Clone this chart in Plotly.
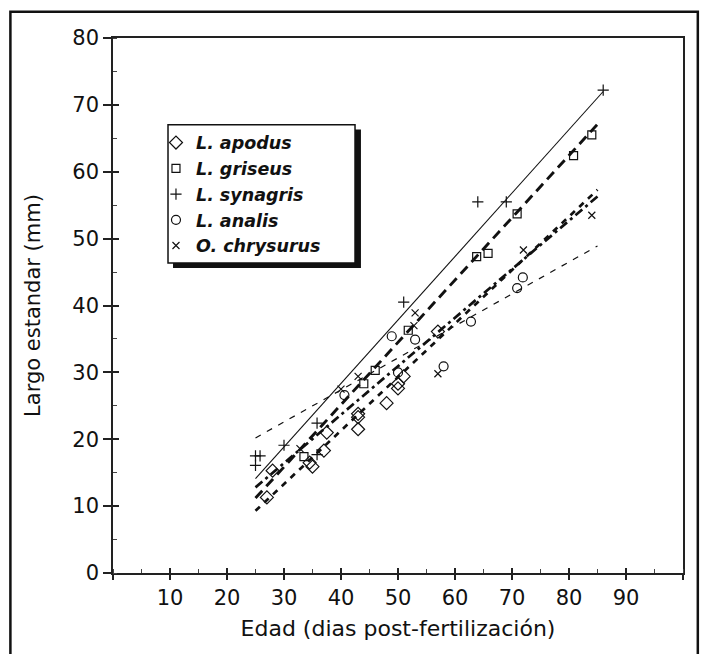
import plotly.graph_objects as go

# ---- data ----
apodus_x = [27, 28, 34.5, 35, 37, 37.5, 43, 43, 43, 48, 50, 50, 51, 57]
apodus_y = [11.3, 15.3, 16.5, 15.9, 18.3, 21.0, 23.8, 23.3, 21.5, 25.4, 27.6, 28.3, 29.4, 36.1]

griseus_x = [33.5, 44, 46, 51.8, 63.8, 65.8, 70.9, 80.8, 84]
griseus_y = [17.4, 28.3, 30.3, 36.3, 47.3, 47.8, 53.7, 62.4, 65.5]

synagris_x = [25, 25.8, 25, 30, 35.8, 35.8, 51, 64, 69, 86]
synagris_y = [17.5, 17.5, 16.1, 19.1, 22.4, 17.7, 40.5, 55.5, 55.5, 72.2]

analis_x = [40.6, 48.9, 50, 53, 58, 62.8, 70.9, 71.9]
analis_y = [26.6, 35.4, 30.0, 34.9, 30.9, 37.6, 42.6, 44.2]

chrysurus_x = [32.8, 40, 43, 52.8, 53, 57, 72, 84]
chrysurus_y = [18.6, 27.5, 29.4, 37.0, 38.9, 29.8, 48.3, 53.5]

# regression lines (end points)
fit_x = [25, 85]
synagris_fit_x = [25, 86]
synagris_fit_y = [14.1, 72.0]
griseus_fit_y = [11.2, 67.1]
apodus_fit_y = [9.3, 57.3]
chrysurus_fit_y = [12.8, 56.3]
analis_fit_y = [20.2, 48.9]

names = ["L. apodus", "L. griseus", "L. synagris", "L. analis", "O. chrysurus"]

x_ticks = list(range(0, 101, 10))
x_ticktext = [""] + [str(v) for v in range(10, 100, 10)] + [""]
y_ticks = list(range(0, 81, 10))

fig = go.Figure()

# regression lines
fig.add_trace(go.Scatter(x=fit_x, y=analis_fit_y, mode="lines", showlegend=False,
                         line=dict(color="#111", width=1.2, dash="6px,7px")))
fig.add_trace(go.Scatter(x=fit_x, y=chrysurus_fit_y, mode="lines", showlegend=False,
                         line=dict(color="#111", width=2.7, dash="9px,4px,3px,4px")))
fig.add_trace(go.Scatter(x=fit_x, y=apodus_fit_y, mode="lines", showlegend=False,
                         line=dict(color="#111", width=2.7, dash="6px,6px")))
fig.add_trace(go.Scatter(x=fit_x, y=griseus_fit_y, mode="lines", showlegend=False,
                         line=dict(color="#111", width=2.9, dash="10px,6px")))
fig.add_trace(go.Scatter(x=synagris_fit_x, y=synagris_fit_y, mode="lines", showlegend=False,
                         line=dict(color="#111", width=1.1)))

series = [
    (apodus_x, apodus_y, "diamond-open", 10),
    (griseus_x, griseus_y, "square-open", 8),
    (synagris_x, synagris_y, "cross-thin", 8),
    (analis_x, analis_y, "circle-open", 9),
    (chrysurus_x, chrysurus_y, "x-thin", 7),
]
for (xs, ys, sym, sz), nm in zip(series, names):
    fig.add_trace(go.Scatter(x=xs, y=ys, mode="markers", name=nm,
                             marker=dict(symbol=sym, size=sz, color="#111",
                                         line=dict(color="#111", width=1.2))))

# helper trace for overlay axes (inside halves of major ticks)
fig.add_trace(go.Scatter(x=[None], y=[None], xaxis="x2", yaxis="y2",
                         showlegend=False, hoverinfo="skip"))

tickfont = dict(family="DejaVu Sans", size=21, color="#111")

fig.update_layout(
    width=707, height=654,
    margin=dict(l=113, r=24, t=38, b=81),
    paper_bgcolor="white", plot_bgcolor="white",
    showlegend=True,
    xaxis=dict(range=[0, 100], showline=True, linecolor="#222", linewidth=1.5,
               mirror=True, showgrid=False, zeroline=False,
               tickmode="array", tickvals=x_ticks, ticktext=x_ticktext,
               ticks="outside", ticklen=5, tickwidth=1.5, tickcolor="#222",
               minor=dict(ticks="inside", ticklen=4, tickwidth=1.2, tickcolor="#444",
                          tickmode="linear", tick0=0, dtick=5),
               tickfont=tickfont,
               title=dict(text="Edad (dias post-fertilización)",
                          font=dict(family="DejaVu Sans", size=22, color="#111"),
                          standoff=12)),
    yaxis=dict(range=[0, 80], showline=True, linecolor="#222", linewidth=1.5,
               mirror=True, showgrid=False, zeroline=False,
               tickmode="array", tickvals=y_ticks,
               ticks="outside", ticklen=8, tickwidth=1.5, tickcolor="#222",
               minor=dict(ticks="inside", ticklen=4, tickwidth=1.2, tickcolor="#444",
                          tickmode="linear", tick0=0, dtick=5),
               tickfont=tickfont,
               title=dict(text="Largo estandar (mm)",
                          font=dict(family="DejaVu Sans", size=21, color="#111"),
                          standoff=26)),
    xaxis2=dict(overlaying="x", anchor="y2", range=[0, 100], showline=False,
                showgrid=False, zeroline=False, showticklabels=False,
                tickmode="array", tickvals=x_ticks, ticks="inside", ticklen=5,
                tickwidth=1.5, tickcolor="#222"),
    yaxis2=dict(overlaying="y", anchor="x2", range=[0, 80], showline=False,
                showgrid=False, zeroline=False, showticklabels=False,
                tickmode="array", tickvals=y_ticks, ticks="inside", ticklen=6,
                tickwidth=1.5, tickcolor="#222"),
    legend=dict(x=0.0754, y=0.838, xanchor="left", yanchor="top",
                bgcolor="rgba(0,0,0,0)", borderwidth=0,
                font=dict(family="DejaVu Sans", size=17.5, color="#111",
                          style="italic", weight="bold"),
                itemwidth=30, tracegroupgap=0),
    shapes=[
        # legend drop shadow
        dict(type="rect", xref="paper", yref="paper",
             x0=0.1053, x1=0.435, y0=0.57, y1=0.829, layer="above",
             fillcolor="#111", line=dict(width=0)),
        # legend box
        dict(type="rect", xref="paper", yref="paper",
             x0=0.0965, x1=0.4246, y0=0.5795, y1=0.838, layer="above",
             fillcolor="white", line=dict(color="#111", width=1.5)),
        # outer frame
        dict(type="rect", xref="paper", yref="paper",
             x0=-0.18, x1=1.026, y0=-0.35, y1=1.049, layer="above",
             fillcolor="rgba(0,0,0,0)", line=dict(color="#111", width=2.5)),
    ],
)

fig.write_html("out.html")
